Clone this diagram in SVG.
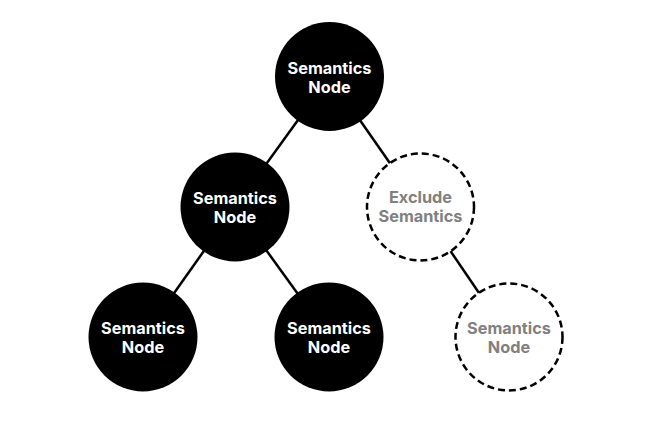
<svg xmlns="http://www.w3.org/2000/svg" width="652" height="427" viewBox="0 0 652 427">
<style>
.n{fill:#000}
.x{fill:#fff;stroke:#000;stroke-width:2.5;stroke-dasharray:7 4}
.t{font-family:Inter,"Noto Sans",sans-serif;font-weight:700;font-size:16.3px;text-anchor:middle;fill:#fff}
.g{fill:#808080}
.c line{stroke:#000;stroke-width:2.5}
</style>
<rect width="652" height="427" fill="#fff"/>
<g class="c" id="connectors">
<line x1="329.5" y1="76.5" x2="235" y2="207"/>
<line x1="329.5" y1="76.5" x2="420.5" y2="207"/>
<line x1="235" y1="207" x2="143" y2="337"/>
<line x1="235" y1="207" x2="329" y2="337"/>
<line x1="420.5" y1="207" x2="509" y2="337"/>
</g>
<g id="n1"><circle class="n" cx="329.5" cy="76.5" r="54.5"/><text class="t" x="329.5" y="73.5">Semantics</text><text class="t" x="329.5" y="92.5">Node</text></g>
<g id="n2"><circle class="n" cx="235" cy="207" r="54.5"/><text class="t" x="235" y="203.5">Semantics</text><text class="t" x="235" y="222.5">Node</text></g>
<g id="n3"><circle class="x" cx="420.5" cy="207" r="53.5"/><text class="t g" x="420.5" y="202.5">Exclude</text><text class="t g" x="420.5" y="221.5">Semantics</text></g>
<g id="n4"><circle class="n" cx="143" cy="337" r="54.5"/><text class="t" x="143" y="333.5">Semantics</text><text class="t" x="143" y="352.5">Node</text></g>
<g id="n5"><circle class="n" cx="329" cy="337" r="54.5"/><text class="t" x="329" y="333.5">Semantics</text><text class="t" x="329" y="352.5">Node</text></g>
<g id="n6"><circle class="x" cx="509" cy="337" r="53.5"/><text class="t g" x="509" y="333.5">Semantics</text><text class="t g" x="509" y="352.5">Node</text></g>
</svg>
